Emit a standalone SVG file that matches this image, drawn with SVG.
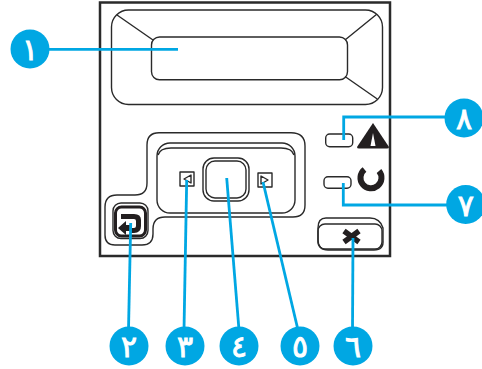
<svg xmlns="http://www.w3.org/2000/svg" width="482" height="369" viewBox="0 0 482 369">
<style>
.o{fill:none;stroke:#2a2a2a;stroke-width:1.4;stroke-linejoin:round}
.k{fill:#231f20;stroke:none}
.c{fill:none;stroke:#00a7e3;stroke-width:2.8}
.b{fill:#00a7e3}
.n{font-family:"DejaVu Sans",sans-serif;font-size:30px;fill:#fff;stroke:#fff;stroke-width:.9;text-anchor:middle}
</style>
<rect width="482" height="369" fill="#fff"/>
<g id="panel">
<rect x="100" y="2.500" width="290" height="253.500" fill="#fff" stroke="#2a2a2a" stroke-width="2.500"/>
</g>
<g id="display">
<rect class="o" x="111.500" y="10" width="271" height="94.500" rx="17"/>
<rect class="o" x="151.500" y="37" width="196" height="42.800" rx="8"/>
<path class="o" d="M117 15L153 40M376.700 14.300L345 40M377.300 99L345 76.500"/>
</g>
<g id="keypad">
<path class="o" d="M159 132.700H291Q305 132.700 305 146V205Q305 217 293 217H165Q153 217 153 229V234Q153 245 142 245H115Q105 245 105 235V207Q105 195 117 195H135Q147 195 147 183V145Q147 132.700 159 132.700Z"/>
<rect class="o" x="157" y="143" width="138" height="70" rx="13" stroke-width="1.600"/>
<path class="o" d="M158 155Q160 148 171 148H281Q292 148 294 155"/>
</g>
<g id="button-back">
<rect class="o" x="113" y="203" width="35" height="35.500" rx="8"/>
<rect x="115.500" y="207" width="30" height="29" rx="6" fill="#fff" stroke="#231f20" stroke-width="3"/>
<path class="k" d="M121 214H134Q141 214 141 220V226Q141 233 134 233H131V228H134Q136 228 136 226V221Q136 219 134 219H121Z"/>
<path class="k" d="M118 228L126 221V225H132V231H126V235Z"/>
</g>
<g id="button-left">
<rect class="o" x="180" y="172" width="14" height="14"/>
<path class="o" d="M191 175V183L184 179Z" stroke-width="1"/>
</g>
<g id="button-ok">
<rect class="o" x="203" y="158" width="46" height="43" rx="11" stroke-width="1.600"/>
<rect class="o" x="206" y="161" width="40" height="37" rx="9"/>
</g>
<g id="button-right">
<rect class="o" x="258" y="173" width="14" height="14"/>
<path class="o" d="M261 176V184L268 180Z" stroke-width="1"/>
</g>
<g id="led-attention">
<rect class="o" x="325.700" y="134" width="27" height="12.700" rx="4" stroke-width="1.600"/>
<path class="k" d="M373 123L389 147Q389 148.500 387 148.500H359Q357 148.500 357 147Z"/>
<path d="M373 133L375.500 146H370.500Z" fill="#fff"/>
</g>
<g id="led-ready">
<rect class="o" x="324" y="176.700" width="27" height="11.500" rx="4" stroke-width="1.600"/>
<path d="M364.500 169.500A10.500 10.500 0 1 0 379 171" fill="none" stroke="#231f20" stroke-width="6"/>
</g>
<g id="button-cancel">
<path class="o" d="M318 228Q318 218 326 218H370Q380 218 383 228V240Q384 250 374 250H328Q318 250 318 240Z"/>
<rect class="o" x="318" y="224" width="64" height="25" rx="7"/>
<path d="M344 231L359 242M359 231L344 242" stroke="#231f20" stroke-width="5.500" fill="none"/>
</g>
<g id="connectors">
<path class="c" d="M48 49.300H178"/>
<path class="c" d="M130.700 223L128.500 330"/>
<path class="c" d="M186.700 180L184 330"/>
<path class="c" d="M226.700 178L239 330"/>
<path class="c" d="M263 182L298 330"/>
<path class="c" d="M353 238L352.500 330"/>
<path class="c" d="M343.300 183V205H450"/>
<path class="c" d="M343.700 140V117H450"/>
</g>
<g id="callout-1"><circle class="b" cx="30" cy="49" r="19.500"/><text class="n" x="30" y="60">١</text></g>
<g id="callout-2"><circle class="b" cx="129" cy="346" r="19.500"/><text class="n" x="129" y="357">٢</text></g>
<g id="callout-3"><circle class="b" cx="185" cy="346" r="19.500"/><text class="n" x="185" y="357">٣</text></g>
<g id="callout-4"><circle class="b" cx="239" cy="346" r="19.500"/><text class="n" x="239" y="357">٤</text></g>
<g id="callout-5"><circle class="b" cx="300" cy="346" r="19.500"/><text class="n" x="300" y="357">٥</text></g>
<g id="callout-6"><circle class="b" cx="353" cy="346" r="19.500"/><text class="n" x="353" y="357">٦</text></g>
<g id="callout-7"><circle class="b" cx="465.700" cy="204.500" r="19.500"/><text class="n" x="465.700" y="215.500">٧</text></g>
<g id="callout-8"><circle class="b" cx="464" cy="118" r="19.500"/><text class="n" x="464" y="129">٨</text></g>
</svg>
